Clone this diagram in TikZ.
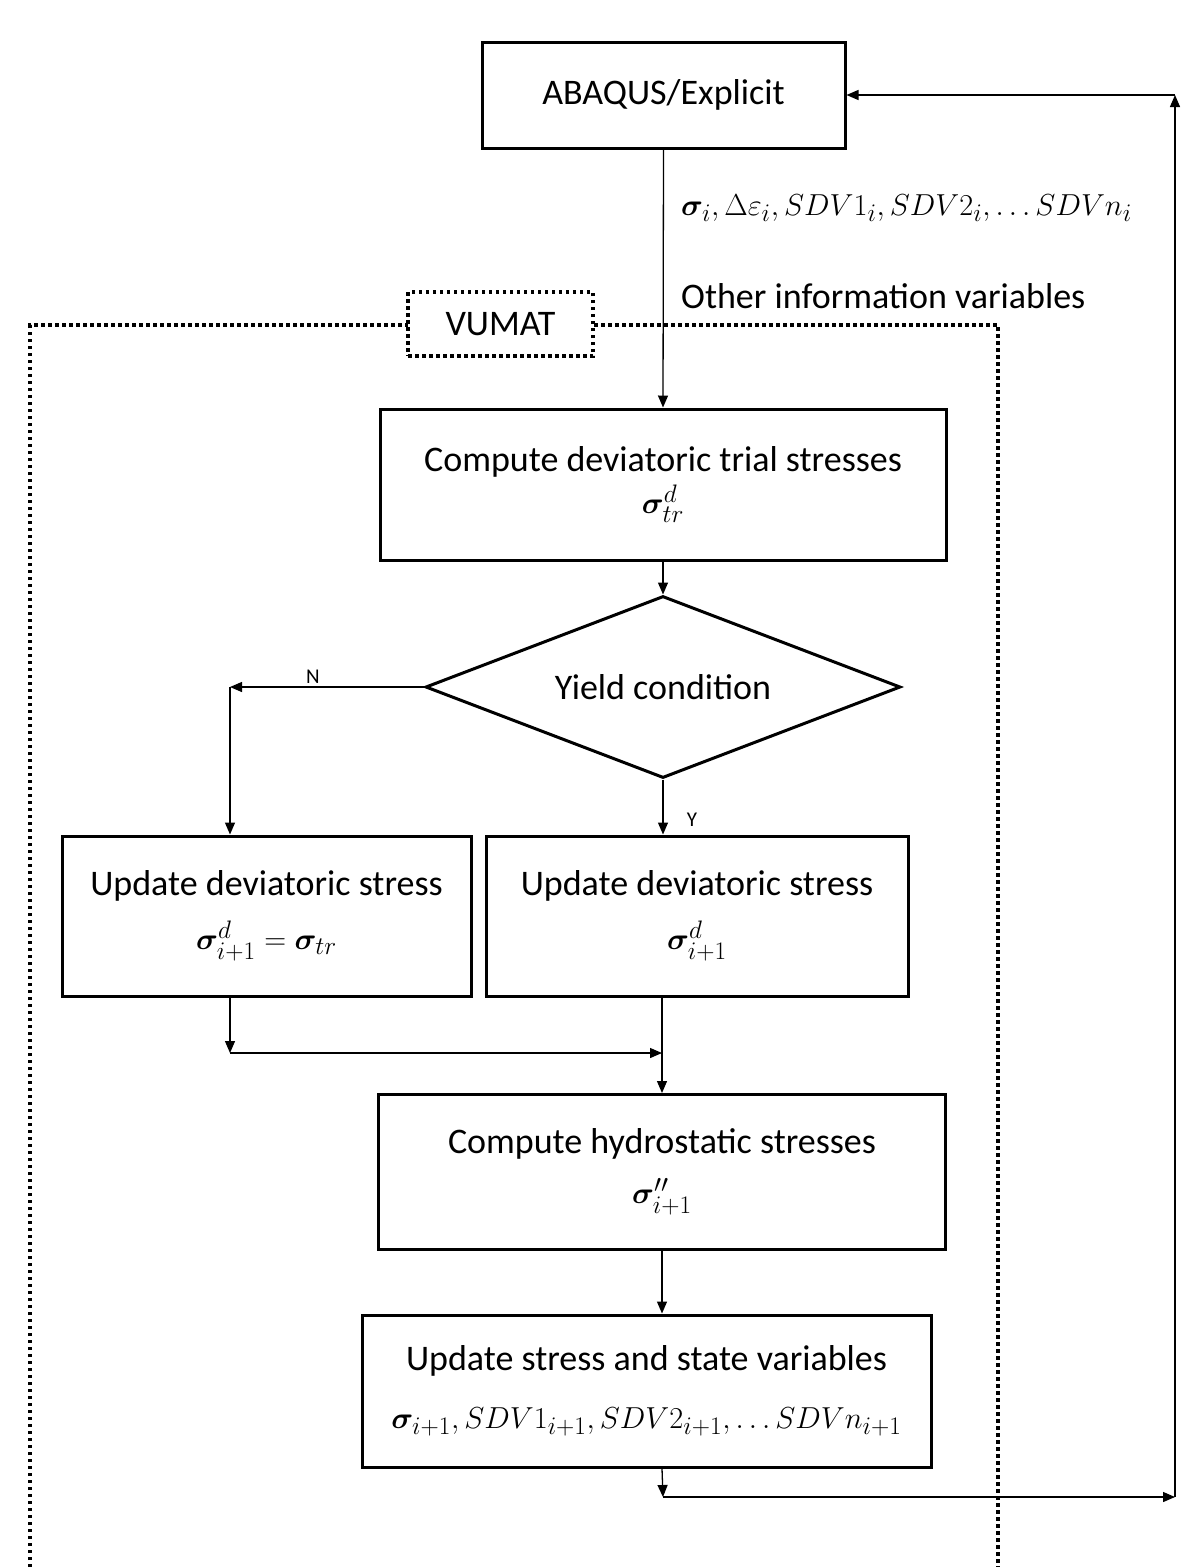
\documentclass[tikz,border=0pt]{standalone}
\usepackage{amsmath}
\usepackage{bm}
\usepackage{fontspec}
\setmainfont{Carlito}
\usetikzlibrary{arrows.meta,shapes.geometric}
\newcommand{\mymath}[1]{{\fontsize{24.88}{30}\selectfont\scalebox{1.22}{$#1$}}}
\begin{document}
\begin{tikzpicture}[x=1pt,y=-1pt,
  box/.style={draw,line width=3pt,inner sep=0pt,align=center,font=\fontsize{36}{44}\selectfont},
  arr/.style={line width=1.3pt,-{Triangle[length=12pt,width=10pt]}},
  dotline/.style={line width=3.5pt,dash pattern=on 3.5pt off 3.5pt},
  lbl/.style={inner sep=0pt,font=\fontsize{36}{40}\selectfont}
]
\useasboundingbox (0,0) rectangle (1182,1567);
% VUMAT frame
\draw[dotline] (30,1567) -- (30,325) -- (998,325) -- (998,1567);
\node[draw,dotline,fill=white,minimum width=185pt,minimum height=64pt,inner sep=0pt,font=\fontsize{36}{40}\selectfont] (vumat) at (500.5,324) {VUMAT};

\node[box,minimum width=363pt,minimum height=106pt] (abaqus) at (663.5,95) {ABAQUS/Explicit};
\node[box,minimum width=566pt,minimum height=151pt] (compute) at (663,484.5) {Compute deviatoric trial stresses\\[-2pt]\mymath{\bm{\sigma}^{d}_{tr}}};
\node[draw,line width=3pt,diamond,aspect=2.6,minimum width=475pt,minimum height=182pt,inner sep=0pt,font=\fontsize{36}{40}\selectfont] (dia) at (663,687) {Yield condition};
\node[box,minimum width=409pt,minimum height=160pt] (lupd) at (266.5,916) {Update deviatoric stress\\[10pt]\mymath{\bm{\sigma}^{d}_{i+1}=\bm{\sigma}_{tr}}};
\node[box,minimum width=422pt,minimum height=160pt] (rupd) at (697,916) {Update deviatoric stress\\[10pt]\mymath{\bm{\sigma}^{d}_{i+1}}};
\node[box,minimum width=567pt,minimum height=155pt] (hydro) at (662,1172) {Compute hydrostatic stresses\\[6pt]\mymath{\bm{\sigma}^{\prime\prime}_{i+1}}};
\node[box,minimum width=569pt,minimum height=152pt] (state) at (646.5,1391) {Update stress and state variables\\[14pt]\mymath{\bm{\sigma}_{i+1},SDV1_{i+1},SDV2_{i+1},\ldots SDVn_{i+1}}};

\node[lbl,anchor=west] (inlbl) at (681,208) {\mymath{\bm{\sigma}_i,\Delta\varepsilon_i,SDV1_i,SDV2_i,\ldots SDVn_i}};
\node[lbl,anchor=west] (other) at (681,296) {Other information variables};
\node[inner sep=0pt,font=\fontsize{21}{24}\selectfont] (nlbl) at (313,677) {N};
\node[inner sep=0pt,font=\fontsize{21}{24}\selectfont] (ylbl) at (692,820) {Y};

\coordinate (nc) at (230,687);
\coordinate (jc) at (230,1053);
\coordinate (bc) at (663,1497);
\coordinate (rc) at (1175,1497);
\coordinate (tc) at (1175,95);

\draw[arr] (abaqus.south) -- (compute.north);
\draw[arr] (compute.south) -- (dia.north);
\draw[arr] (dia.west) -- (nc);
\draw[arr] (nc) -- (nc |- lupd.north);
\draw[arr] (dia.south) -- (dia.south |- rupd.north);
\draw[arr] (lupd.south -| nc) -- (jc);
\draw[arr] (jc) -- (jc -| hydro.north);
\draw[arr] (rupd.south -| hydro.north) -- (hydro.north);
\draw[arr] (hydro.south) -- (hydro.south |- state.north);
\draw[arr] (state.south -| hydro.south) -- (bc);
\draw[arr] (bc) -- (rc);
\draw[arr] (rc) -- (tc);
\draw[arr] (tc) -- (abaqus.east);
\end{tikzpicture}
\end{document}
